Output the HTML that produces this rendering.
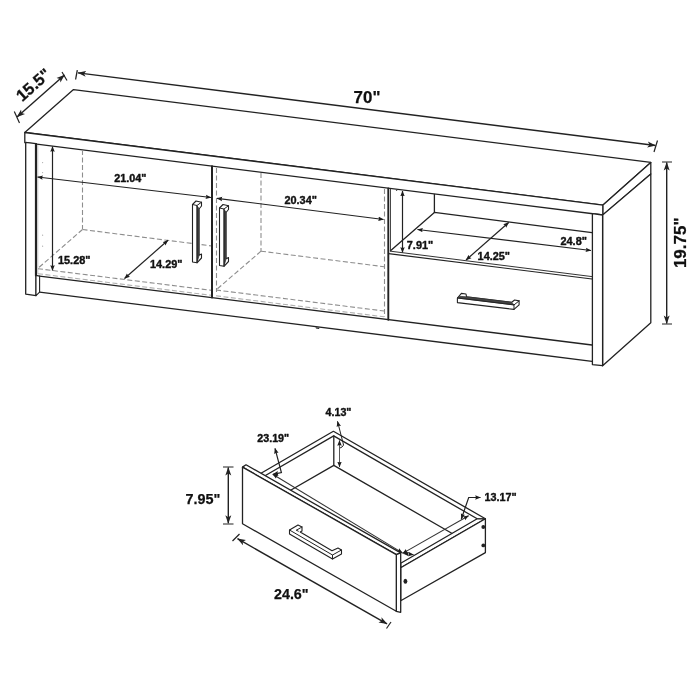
<!DOCTYPE html>
<html>
<head>
<meta charset="utf-8">
<title>TV Stand Dimensions</title>
<style>
html,body{margin:0;padding:0;background:#fff;}
body{width:700px;height:700px;overflow:hidden;font-family:"Liberation Sans",sans-serif;}
svg{display:block;will-change:transform;}
text{font-family:"Liberation Sans",sans-serif;font-weight:bold;fill:#111;stroke:#111;stroke-width:.4px;stroke-linejoin:round;}
text.big{stroke-width:.25px;}
.l{stroke:#222;stroke-width:1.3;fill:none;stroke-linecap:round;stroke-linejoin:round;}
.lt{stroke:#222;stroke-width:2;fill:none;stroke-linecap:round;stroke-linejoin:round;}
.f{stroke:#222;stroke-width:1.3;fill:#fff;stroke-linejoin:round;}
.d{stroke:#8e8e8e;stroke-width:1.1;fill:none;stroke-dasharray:5 2.5;}
.dm{stroke:#222;stroke-width:1.2;fill:none;}
.g{stroke:#8a8a8a;stroke-width:1;fill:none;}
.ah{fill:#222;stroke:none;}
</style>
</head>
<body>
<svg width="700" height="700" viewBox="0 0 700 700">
<defs>
  <marker id="a" viewBox="0 0 10 10" refX="9.5" refY="5" markerWidth="8.5" markerHeight="8.5" orient="auto-start-reverse" markerUnits="userSpaceOnUse">
    <path d="M0,1.5 L10,5 L0,8.5 L2.5,5 Z" fill="#222"/>
  </marker>
  <marker id="as" viewBox="0 0 10 10" refX="9.5" refY="5" markerWidth="5.6" markerHeight="5.6" orient="auto-start-reverse" markerUnits="userSpaceOnUse">
    <path d="M0,1 L10,5 L0,9 L1.5,5 Z" fill="#1c1c1c"/>
  </marker>
</defs>
<rect width="700" height="700" fill="#fff"/>

<!-- ===================== TV STAND ===================== -->
<g id="stand">
  <!-- top slab -->
  <path class="f" d="M73.5,89.6 L650.8,162.4 L603,205.1 L24.8,132.5 Z"/>
  <path class="f" d="M24.8,132.5 L603,205.1 L603,215 L24.8,142.7 Z"/>
  <path class="f" d="M603,205.1 L650.8,162.4 L650.8,173.9 L603,215 Z"/>

  <!-- right side panel -->
  <path class="f" d="M602.6,215 L650.8,173.9 L650.8,322.8 L602.6,365.7 Z"/>
  <!-- right front stile -->
  <path class="f" d="M592.4,213.6 L602.6,215 L602.6,365.7 L592.4,364.6 Z"/>

  <!-- left panel -->
  <path class="f" d="M25.7,142.3 L36,143.6 L36,295.6 L25.7,294.1 Z"/>
  <path class="lt" d="M36,144 L36,275.4" style="stroke-width:2.2"/>
  <path class="f" d="M36,275.4 L39.6,276.1 L39.6,292.1 L36,295.6 Z" style="stroke-width:1.1"/>
  <path class="g" d="M37.8,145 L37.8,274" style="stroke:#bbb;stroke-width:.8"/>

  <!-- base -->
  <path class="l" d="M39.6,276.1 L592,345"/>
  <path class="l" d="M39.6,292.1 L592,361.3"/>
  <!-- tiny foot -->
  <path d="M315.5,327.2 L319.5,327.7 L319,329 L316,328.6 Z" fill="#222"/>

  <!-- dashed interior: left cabinet -->
  <path class="d" d="M82.5,150 L82.5,229"/>
  <path class="d" d="M82.5,229.5 L212,246"/>
  <path class="d" d="M82.5,229.5 L37.5,268.7"/>
  <path class="d" d="M38,268.7 L212,290.4"/>
  <path class="d" d="M38,273.7 L212,295.4" style="stroke:#b0b0b0"/>
  <!-- dashed interior: right cabinet -->
  <path class="d" d="M216.5,168 L216.5,292"/>
  <path class="d" d="M261,173 L261,251"/>
  <path class="d" d="M261,251.2 L384,266.7"/>
  <path class="d" d="M261,251.2 L216,290"/>
  <path class="d" d="M216,290 L384,311"/>
  <path class="d" d="M216,295.8 L384,316.8" style="stroke:#b0b0b0"/>
  <path class="d" d="M384.5,189 L384.5,317"/>

  <circle cx="42.6" cy="162.6" r=".6" fill="#aaa"/><circle cx="42.6" cy="172.6" r=".6" fill="#aaa"/>
  <circle cx="42.6" cy="235.2" r=".6" fill="#aaa"/><circle cx="42.6" cy="246.2" r=".6" fill="#aaa"/>
  <circle cx="396.6" cy="190.3" r=".7" fill="#444"/>
  <!-- door divider / door right edge -->
  <path class="lt" d="M212,166.3 L212,297.5"/>
  <path class="lt" d="M388.3,188.5 L388.3,319.7" style="stroke-width:1.9"/>
  <path class="g" d="M390.5,189 L390.5,250.5" style="stroke:#333;stroke-width:.9"/>

  <!-- open shelf -->
  <path class="l" d="M434.4,194.5 L434.4,212.4"/>
  <path class="l" d="M390.5,250.7 L434.4,212.4 L592,232.6"/>

  <!-- drawer front -->
  <path class="l" d="M388.5,253.6 L592,279" style="stroke-width:1.2"/>
  <path class="l" d="M390.5,251.2 L592,276.6" style="stroke-width:1;stroke:#333"/>

  <!-- handles -->
  <g id="h1">
    <path class="f" d="M192.5,204.5 L196,201 L201.5,202.2 L201.5,206 L199,209 L199,255.2 L201.5,254 L201.5,258 L197,262.8 L192.5,262 Z" style="stroke-width:1.1"/>
    <path d="M197,206 L199,208.5 L199,255.5 L197,262.5 Z" fill="#444" stroke="#333" stroke-width=".8"/>
    <path class="l" d="M192.5,204.5 L197,205.5 L197,262.8 M197,205.5 L201.5,202.2" style="stroke-width:1"/>
  </g>
  <g id="h2" transform="translate(27,3.5)">
    <path class="f" d="M192.5,204.5 L196,201 L201.5,202.2 L201.5,206 L199,209 L199,255.2 L201.5,254 L201.5,258 L197,262.8 L192.5,262 Z" style="stroke-width:1.1"/>
    <path d="M197,206 L199,208.5 L199,255.5 L197,262.5 Z" fill="#444" stroke="#333" stroke-width=".8"/>
    <path class="l" d="M192.5,204.5 L197,205.5 L197,262.8 M197,205.5 L201.5,202.2" style="stroke-width:1"/>
  </g>
  <g id="h3">
    <path class="f" d="M457.4,298 L461.4,293.4 L466,294 L466.6,296.8 L511.7,302.3 L514.6,300 L519.1,300.9 L519.1,304.9 L514,309.4 L457.4,302.6 Z" style="stroke-width:1.1"/>
    <path d="M459.5,296.3 L466.6,296.8 L511.7,302.3 L514,304.9 L457.4,298 Z" fill="#444" stroke="#333" stroke-width=".7"/>
    <path class="l" d="M457.4,298 L514,304.9 L514,309.4 M514,304.9 L519.1,300.9" style="stroke-width:1"/>
  </g>
</g>

<!-- ===================== DIMENSIONS (stand) ===================== -->
<g id="dims">
  <!-- 15.5 -->
  <path class="dm" d="M17,117 L64.5,75" marker-start="url(#a)" marker-end="url(#a)" style="stroke-width:1.4"/>
  <path class="dm" d="M14.3,111.5 L19.5,123" style="stroke-width:1.2"/>
  <path class="dm" d="M62,72 L67,80.5" style="stroke-width:1.2"/>
  <text class="big" transform="translate(37.1,89) rotate(-41.5)" font-size="16.5" text-anchor="middle">15.5"</text>
  <!-- 70 -->
  <path class="dm" d="M78,72.9 L655.5,145.5" marker-start="url(#a)" marker-end="url(#a)" style="stroke-width:1.4"/>
  <path class="dm" d="M77.3,70.2 L75.6,79.5" style="stroke-width:1.3"/>
  <path class="dm" d="M657.5,140.5 L654,152" style="stroke-width:1.2"/>
  <text class="big" x="367" y="102.6" font-size="16.9" text-anchor="middle">70"</text>
  <!-- 19.75 -->
  <path class="dm" d="M666.7,162.5 L666.7,323.5" marker-start="url(#a)" marker-end="url(#a)" style="stroke-width:1.4"/>
  <path class="dm" d="M662,162 L672,162 M662,324 L672,324" style="stroke-width:1.2"/>
  <text class="big" transform="translate(685.5,242.8) rotate(-90)" font-size="17" text-anchor="middle">19.75"</text>

  <!-- 21.04 -->
  <path class="dm" d="M37.5,177 L211,197.5" marker-start="url(#as)" marker-end="url(#as)"/>
  <text x="130.4" y="181.9" font-size="10.8" text-anchor="middle">21.04"</text>
  <!-- 15.28 -->
  <path class="dm" d="M52.5,146.5 L52.5,270.5" marker-start="url(#as)" marker-end="url(#as)"/>
  <text x="58" y="264.2" font-size="10.9">15.28"</text>
  <!-- 14.29 -->
  <path class="dm" d="M124.5,278.5 L168,240.3" marker-start="url(#as)" marker-end="url(#as)"/>
  <text x="150" y="268.3" font-size="10.9">14.29"</text>
  <!-- 20.34 -->
  <path class="dm" d="M217,198.3 L383.5,219.5" marker-start="url(#as)" marker-end="url(#as)"/>
  <text x="300.7" y="203.6" font-size="10.9" text-anchor="middle">20.34"</text>
  <!-- 7.91 -->
  <path class="dm" d="M402.5,191 L402.5,252.5" marker-start="url(#as)" marker-end="url(#as)"/>
  <text x="406.8" y="249" font-size="10.9">7.91"</text>
  <!-- 24.8 -->
  <path class="dm" d="M417.5,229.5 L591,250.5" marker-start="url(#as)" marker-end="url(#as)"/>
  <text x="560.5" y="245.3" font-size="10.9">24.8"</text>
  <!-- 14.25 -->
  <path class="dm" d="M466,260 L508.7,222.5" marker-start="url(#as)" marker-end="url(#as)"/>
  <text x="477.6" y="259.5" font-size="10.9">14.25"</text>
</g>

<!-- ===================== DRAWER ===================== -->
<g id="drawer">
  <!-- back panel rim + left rim (top faces) -->
  <path d="M333.4,431.3 L485.4,518.8 L477.2,518.8 L333.7,435.9 Z" fill="#fff"/>
  <path d="M333.4,431.3 L333.7,435.9 L262,477.5 L258,475 Z" fill="#fff"/>
  <path class="l" d="M258,475 L333.4,431.3 L485.4,518.8 M262,477.5 L333.7,435.9 L477.2,518.8 L485.4,518.8"/>
  <!-- interior left wall -->
  <path class="l" d="M333.8,435.9 L333.8,465.4 L288,491.8"/>
  <!-- interior bottom-back edge -->
  <path class="l" d="M333.8,465.4 L452.6,533.7"/>
  <!-- right side rim -->
  <path class="f" d="M485.4,518.8 L400.7,567.8 L400.7,563.2 L477.2,518.8 Z"/>
  <!-- right side face -->
  <path class="f" d="M485.4,518.8 L485.4,552.6 L400.7,600.8 L400.7,567.8 Z"/>
  <circle cx="483.3" cy="527" r="1.9" fill="#222"/>
  <circle cx="483.3" cy="545.4" r="1.9" fill="#222"/>
  <ellipse cx="405.4" cy="581.2" rx="1.9" ry="2.5" fill="#222"/>

  <!-- dimension lines inside drawer (thin) -->
  <path class="g" d="M272.7,474.2 L402.5,552.9" marker-start="url(#as)" marker-end="url(#as)" style="stroke:#333;stroke-width:1.05"/>
  <path class="g" d="M402.6,553.4 L468.6,515.7" marker-start="url(#as)" marker-end="url(#as)" style="stroke:#333;stroke-width:1.05"/>
  <path class="g" d="M339.5,440.4 L339.5,467" marker-start="url(#as)" marker-end="url(#as)" style="stroke:#444;stroke-width:.9"/>

  <!-- front panel -->
  <path class="f" d="M242.5,467.1 L246,464.8 L400.7,552.9 L396.3,554.6 Z"/>
  <path class="f" d="M396.3,554.6 L400.7,552.9 L400.7,612.3 L396.3,611.3 Z"/>
  <path class="f" d="M242.5,467.1 L396.3,554.6 L396.3,611.3 L242.5,523.8 Z"/>

  <!-- small arrows at front-right corner -->
  <path class="g" d="M403.5,553.6 L413.6,554.6" marker-start="url(#as)" marker-end="url(#as)" style="stroke:#444;stroke-width:.8"/>

  <!-- handle -->
  <g id="h4">
    <path class="f" d="M289.5,530 L298,525 L302,527 L302,531 L300.2,532 L332,550.8 L338,548 L341.5,550 L341.5,554 L332.5,559 L289.5,534 Z" style="stroke-width:1.1"/>
    <path class="l" d="M289.5,530 L332.5,555 L332.5,559 M332.5,555 L341.5,550 M296.5,530.2 L300.2,528 L302,527 M296.5,530.2 L298.3,531.2" style="stroke-width:1"/>
  </g>

  <!-- leaders -->
  <path class="dm" d="M337.5,421.3 L343,442.8 Q344.6,445.3 342,447 L340,448" marker-start="url(#as)" style="stroke-width:1"/>
  <path class="dm" d="M275,448.3 L281.4,472.6 L273,474.3" marker-start="url(#as)" marker-end="url(#as)"/>
  <path class="dm" d="M480.5,497.5 L468.7,497.5 L461.3,519" marker-start="url(#as)" marker-end="url(#as)"/>

  <!-- 7.95 -->
  <path class="dm" d="M228.3,467.5 L228.3,523.3" marker-start="url(#a)" marker-end="url(#a)" style="stroke-width:1.4"/>
  <path class="dm" d="M223,467 L233.5,467 M223,524 L233.5,524" style="stroke-width:1.2"/>
  <text class="big" x="220.3" y="503.7" font-size="14.4" text-anchor="end">7.95"</text>
  <!-- 24.6 -->
  <path class="dm" d="M237.5,538.7 L387,623.8" marker-start="url(#a)" marker-end="url(#a)" style="stroke-width:1.4"/>
  <path class="dm" d="M239.5,534 L232.5,541" style="stroke-width:1.2"/>
  <path class="dm" d="M391,622 L386.5,628.5" style="stroke-width:1.2"/>
  <text class="big" x="291.3" y="598.8" font-size="14.3" text-anchor="middle">24.6"</text>

  <text x="273.2" y="442.2" font-size="10.7" text-anchor="middle">23.19"</text>
  <text x="338.5" y="416.4" font-size="10.7" text-anchor="middle">4.13"</text>
  <text x="484.5" y="501.2" font-size="10.8">13.17"</text>
</g>
</svg>
</body>
</html>
